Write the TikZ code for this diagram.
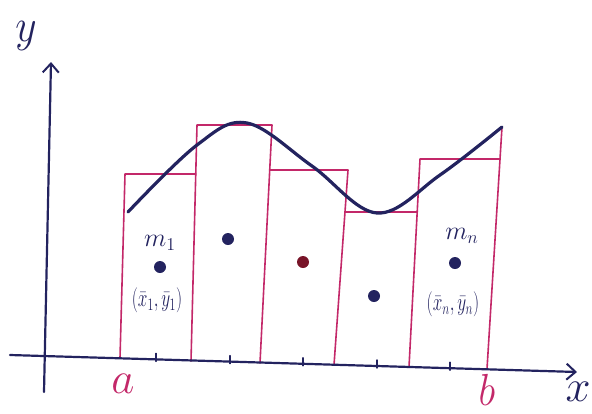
\documentclass[tikz,border=0pt]{standalone}
\usepackage{graphicx}
\usetikzlibrary{arrows.meta}
\definecolor{tinta}{RGB}{35,35,95}
\definecolor{rosa}{RGB}{195,40,105}
\definecolor{granate}{RGB}{120,20,40}
\tikzset{
  eje/.style={draw=tinta, line width=2.2pt, -{Straight Barb[length=9pt,width=16pt,line width=2pt]}},
  rect/.style={draw=rosa, line width=1.6pt},
  punto/.style={circle, fill=tinta, inner sep=0pt, minimum size=12pt},
  etiq/.style={text=tinta, inner sep=0pt, font=\LARGE},
  extremo/.style={text=rosa, inner sep=0pt, font=\LARGE}
}
\begin{document}
\begin{tikzpicture}[x=1pt, y=-1pt, line cap=round, line join=round]
  \useasboundingbox (0,0) rectangle (592,413);
  % los rectangulos
  \draw[rect] (120,358) -- (125,174) -- (195.8,174);
  \draw[rect] (191,361) -- (197,125) -- (272,125) -- (260,363);
  \draw[rect] (269.7,170) -- (348,170) -- (334,365);
  \draw[rect] (345,212) -- (417.2,212);
  \draw[rect] (409,367) -- (420,159) -- (500,159);
  \draw[rect] (502,127) -- (487,369);
  % los ejes
  \draw[eje] (10,355) -- (577,372);
  \draw[eje] (44,392) -- (51,62);
  \node[etiq] (ejex) at (578,392) {\scalebox{2.6}{$x$}};
  \node[etiq] (ejey) at (26,36) {\scalebox{2.4}[2.7]{$y$}};
  % las marcas
  \foreach \t in {156,230,303,377,450}
    { \draw[tinta, line width=1.4pt] (\t,{355+0.03*(\t-10)-6}) -- (\t,{355+0.03*(\t-10)+2}); }
  \node[extremo] (a) at (123,384) {\scalebox{2.6}{$a$}};
  \node[extremo] (b) at (487,390) {\scalebox{2.3}[2.6]{$b$}};
  % la curva
  \draw[tinta, line width=3.2pt] plot[smooth, tension=0.6] coordinates
    {(128,212) (197,145) (247,123) (312,166) (377,213) (440,175) (502,127)};
  % los centros de masa
  \node[punto] (m1) at (160,267) {};
  \node[punto] (m2) at (228,239) {};
  \node[punto, fill=granate] (m3) at (303,262) {};
  \node[punto] (m4) at (374,296) {};
  \node[punto] (mn) at (455,263) {};
  \node[etiq] (lm1) at (160,243) {\scalebox{1.5}{$m_1$}};
  \node[etiq] (lc1) at (157,300) {\scalebox{1}[1.45]{$(\bar{x}_1,\bar{y}_1)$}};
  \node[etiq] (lmn) at (462,236) {\scalebox{1.5}{$m_n$}};
  \node[etiq] (lcn) at (453,304) {\scalebox{1}[1.45]{$(\bar{x}_n,\bar{y}_n)$}};
\end{tikzpicture}
\end{document}
